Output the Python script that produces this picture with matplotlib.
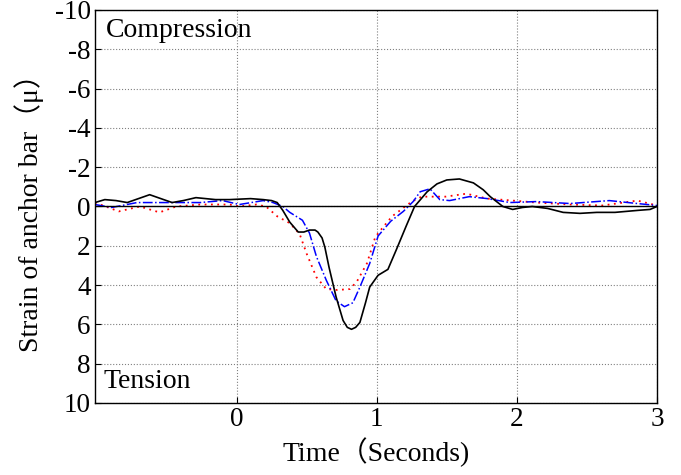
import numpy as np
import matplotlib
matplotlib.use("Agg")
import matplotlib.pyplot as plt

plt.rcParams['font.family'] = ['Liberation Serif', 'Noto Sans CJK SC', 'DejaVu Sans']
plt.rcParams['axes.unicode_minus'] = False

# black solid trace
t_black = [-1.01, -0.94, -0.86, -0.78, -0.70, -0.62, -0.54, -0.46, -0.38, -0.29, -0.15, -0.05,
           0.10, 0.19, 0.25, 0.29, 0.33, 0.38, 0.44, 0.48, 0.52, 0.56, 0.58, 0.61, 0.63,
           0.66, 0.71, 0.76, 0.79, 0.82, 0.85, 0.88, 0.92, 0.95, 1.01, 1.08, 1.14, 1.21,
           1.27, 1.36, 1.43, 1.50, 1.59, 1.69, 1.76, 1.81, 1.90, 1.97, 2.04, 2.11, 2.22,
           2.33, 2.45, 2.57, 2.70, 2.86, 2.95, 3.0]
s_black = [-0.2, -0.35, -0.3, -0.2, -0.4, -0.6, -0.4, -0.2, -0.3, -0.45, -0.35, -0.35,
           -0.4, -0.35, -0.3, -0.2, 0.2, 0.8, 1.3, 1.3, 1.2, 1.2, 1.3, 1.6, 2.07,
           3.1, 4.6, 5.8, 6.15, 6.25, 6.15, 5.9, 4.9, 4.1, 3.5, 3.2, 2.2, 1.0,
           0.0, -0.75, -1.15, -1.35, -1.4, -1.2, -0.85, -0.5, 0.0, 0.15, 0.05, 0.0, 0.1,
           0.3, 0.35, 0.3, 0.3, 0.2, 0.15, 0.0]

# blue dash-dot trace
t_blue = [-1.01, -0.89, -0.71, -0.57, -0.46, -0.26, -0.10, 0.02, 0.19, 0.26, 0.33, 0.38,
          0.47, 0.52, 0.57, 0.64, 0.71, 0.77, 0.83, 0.88, 0.95, 1.01, 1.10, 1.19, 1.26,
          1.31, 1.38, 1.45, 1.52, 1.66, 1.79, 1.95, 2.14, 2.38, 2.66, 2.86, 3.0]
s_blue = [-0.1, 0.05, -0.2, -0.2, -0.2, -0.2, -0.3, -0.1, -0.3, -0.2, 0.0, 0.3,
          0.7, 1.35, 2.55, 3.75, 4.8, 5.1, 4.9, 4.1, 2.9, 1.5, 0.75, 0.25, -0.25,
          -0.75, -0.9, -0.35, -0.3, -0.5, -0.4, -0.2, -0.25, -0.15, -0.3, -0.15, -0.05]

# red dotted trace
t_red = [-1.01, -0.84, -0.69, -0.55, -0.43, -0.26, -0.05, 0.02, 0.14, 0.21, 0.29, 0.38,
         0.45, 0.50, 0.57, 0.64, 0.72, 0.81, 0.86, 0.93, 0.99, 1.04, 1.11, 1.25, 1.32, 1.49,
         1.64, 1.79, 1.97, 2.14, 2.38, 2.61, 2.86, 3.0]
s_red = [-0.2, 0.25, 0.0, 0.3, 0.0, -0.1, -0.1, 0.0, -0.1, 0.0, 0.5, 0.85,
         1.4, 2.4, 3.6, 4.2, 4.25, 4.2, 3.8, 2.9, 1.55, 1.1, 0.5, -0.25, -0.5, -0.5,
         -0.65, -0.4, -0.3, -0.2, -0.1, -0.05, -0.3, -0.05]

xticks = [0, 1, 2, 3]
yticks = list(range(-10, 11, 2))

fig = plt.figure(figsize=(6.81, 4.75), dpi=100)
ax = fig.add_axes([0.1395, 0.1516, 0.8253, 0.8274])

ax.plot(t_red, s_red, color='red', linestyle=(0, (1, 2.5)), linewidth=1.3)
ax.plot(t_blue, s_blue, color='blue', linestyle='-.', linewidth=1.1)
ax.plot(t_black, s_black, color='black', linewidth=1.2)
ax.axhline(0, color='black', linewidth=1.0)

ax.set_xlim(-1.01, 3)
ax.set_ylim(10, -10)
ax.set_xticks(xticks)
ax.set_yticks(yticks)
ax.grid(True, color='gray', linestyle=':', linewidth=0.8)
ax.tick_params(direction='in', labelsize=19.5, length=4, pad=3)
for sp in ax.spines.values():
    sp.set_linewidth(1.0)

ax.text(-0.935, -9.6, 'Compression', fontsize=20, va='top', ha='left')
ax.text(-0.95, 9.55, 'Tension', fontsize=20, va='bottom', ha='left')

ax.set_xlabel('Time（Seconds)', fontsize=20, labelpad=4)
ax.set_ylabel('Strain of anchor bar（μ）', fontsize=20, labelpad=8)

fig.savefig('out.png', dpi=100)
